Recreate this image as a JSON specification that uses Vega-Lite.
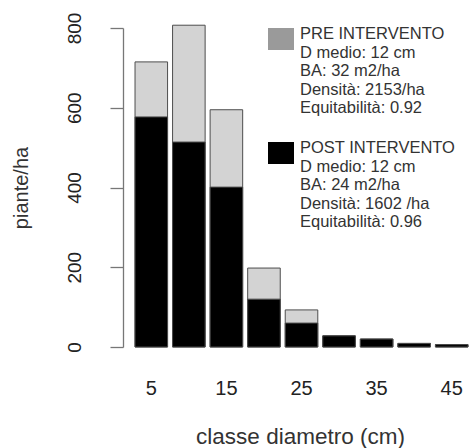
{
  "$schema": "https://vega.github.io/schema/vega-lite/v6.json",
  "width": 345,
  "height": 319,
  "autosize": "none",
  "padding": {"left": 123, "top": 28, "right": 6, "bottom": 101},
  "background": "white",
  "config": {"view": {"stroke": null}, "font": "Liberation Sans"},
  "data": {
    "values": [
      {"classe": 5, "fase": "PRE", "piante": 715},
      {"classe": 10, "fase": "PRE", "piante": 807},
      {"classe": 15, "fase": "PRE", "piante": 595},
      {"classe": 20, "fase": "PRE", "piante": 198},
      {"classe": 25, "fase": "PRE", "piante": 93},
      {"classe": 30, "fase": "PRE", "piante": 28},
      {"classe": 35, "fase": "PRE", "piante": 20},
      {"classe": 40, "fase": "PRE", "piante": 9},
      {"classe": 45, "fase": "PRE", "piante": 6},
      {"classe": 5, "fase": "POST", "piante": 577},
      {"classe": 10, "fase": "POST", "piante": 514},
      {"classe": 15, "fase": "POST", "piante": 401},
      {"classe": 20, "fase": "POST", "piante": 120},
      {"classe": 25, "fase": "POST", "piante": 60},
      {"classe": 30, "fase": "POST", "piante": 28},
      {"classe": 35, "fase": "POST", "piante": 20},
      {"classe": 40, "fase": "POST", "piante": 9},
      {"classe": 45, "fase": "POST", "piante": 6}
    ]
  },
  "encoding": {
    "x": {
      "field": "classe",
      "type": "ordinal",
      "scale": {"paddingInner": 0.133, "paddingOuter": 0.16, "align": 1},
      "axis": {
        "values": [5, 15, 25, 35, 45],
        "title": "classe diametro (cm)",
        "domain": false,
        "ticks": false,
        "tickSize": 0,
        "labelAngle": 0,
        "labelFontSize": 20,
        "labelColor": "#222",
        "labelBaseline": "alphabetic",
        "labelAlign": "center",
        "labelPadding": 47,
        "titleFontSize": 22.5,
        "titleFontWeight": "normal",
        "titleColor": "#333",
        "titleBaseline": "alphabetic",
        "titleY": 96,
        "titleX": 177
      }
    },
    "y": {
      "field": "piante",
      "type": "quantitative",
      "scale": {"domain": [0, 800], "nice": false, "zero": true},
      "axis": {
        "values": [0, 200, 400, 600, 800],
        "title": "piante/ha",
        "grid": false,
        "domainColor": "#777",
        "domainWidth": 1.3,
        "tickColor": "#777",
        "tickWidth": 1.3,
        "tickSize": 13,
        "labelAngle": 270,
        "labelAlign": "center",
        "labelBaseline": "alphabetic",
        "labelPadding": 30,
        "labelFontSize": 19,
        "labelColor": "#222",
        "titleFontSize": 20,
        "titleFontWeight": "normal",
        "titleColor": "#333",
        "titleAngle": 270,
        "titleAlign": "center",
        "titleBaseline": "alphabetic",
        "titleX": -96,
        "titleY": 159.5
      }
    },
    "fillOpacity": {
      "field": "fase",
      "type": "nominal",
      "scale": {"domain": ["PRE", "POST"], "range": [0.44, 1]},
      "legend": null
    },
    "fill": {
      "field": "fase",
      "type": "nominal",
      "scale": {"domain": ["PRE", "POST"], "range": ["#9a9a9a", "#000000"]},
      "legend": {
        "title": null,
        "orient": "none",
        "legendX": 147,
        "legendY": 0,
        "padding": 0,
        "symbolType": "M-1.18,-1H1.18V1H-1.18Z",
        "symbolSize": 484,
        "symbolStrokeWidth": 0,
        "symbolOpacity": 1,
        "labelFontSize": 16.5,
        "labelColor": "#333",
        "labelBaseline": "alphabetic",
        "labelOffset": 8,
        "labelLimit": 0,
        "rowPadding": 23,
        "labelExpr": "datum.value == 'PRE' ? ['PRE INTERVENTO', ' D medio: 12 cm', ' BA: 32 m2/ha', ' Densità: 2153/ha', ' Equitabilità: 0.92'] : ['POST INTERVENTO', ' D medio: 12 cm', ' BA: 24 m2/ha', ' Densità: 1602 /ha', ' Equitabilità: 0.96']",
        "encode": {
          "labels": {"dy": {"value": 6}, "lineHeight": {"value": 18}}
        }
      }
    }
  },
  "layer": [
    {
      "transform": [{"filter": "datum.fase == 'PRE'"}],
      "mark": {"type": "bar", "stroke": "#4d4d4d", "strokeWidth": 1}
    },
    {
      "transform": [{"filter": "datum.fase == 'POST'"}],
      "mark": {"type": "bar", "stroke": "#4d4d4d", "strokeWidth": 1}
    }
  ]
}
